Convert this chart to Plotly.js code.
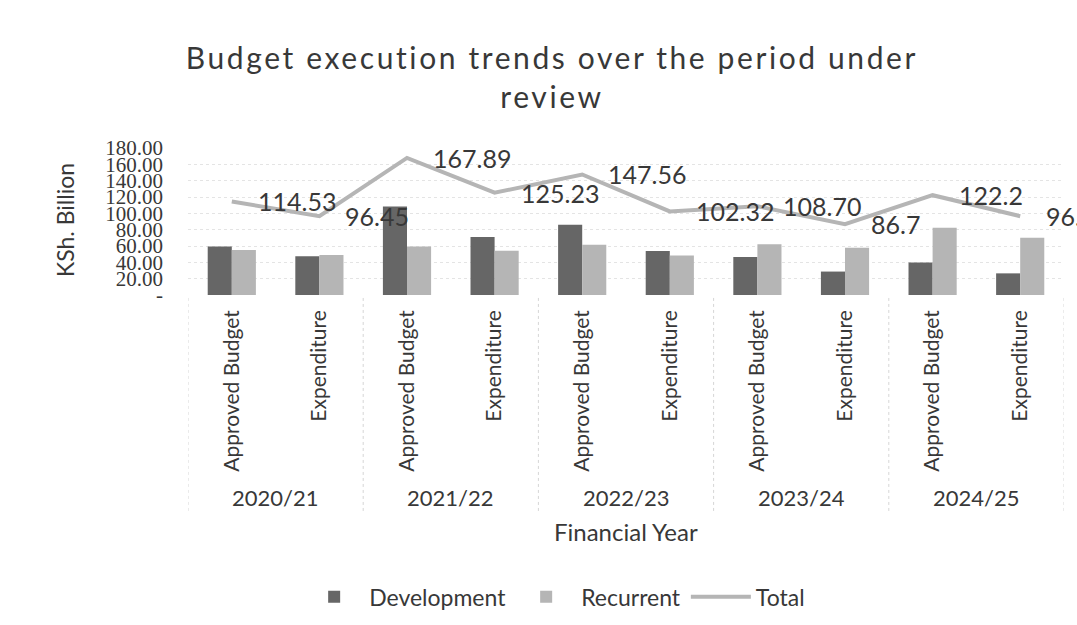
<!DOCTYPE html>
<html>
<head>
<meta charset="utf-8">
<script src="https://cdn.plot.ly/plotly-3.0.1.min.js"></script>
<style>
  html, body { margin: 0; padding: 0; background: #fff; }
  #chart { width: 1077px; height: 625px; }
  /* the original title is set with airy letter spacing */
  #chart .gtitle { letter-spacing: 2.6px; }
</style>
</head>
<body>
<div id="chart"></div>
<script>
// values (KSh. Billion)
const years = ["2020/21", "2021/22", "2022/23", "2023/24", "2024/25"];
const stages = ["Approved Budget", "Expenditure"];
const development = [59.5, 47.5, 108.5, 71.0, 86.0, 54.0, 46.5, 28.7, 39.8, 26.5];
const recurrent = [55.0, 49.0, 59.4, 54.2, 61.6, 48.3, 62.2, 58.0, 82.4, 70.0];
const total = [114.53, 96.45, 167.89, 125.23, 147.56, 102.32, 108.70, 86.7, 122.2, 96.5];
const totalLabels = ["114.53", "96.45", "167.89", "125.23", "147.56", "102.32", "108.70", "86.7", "122.2", "96.5"];
const yTicks = [0, 20, 40, 60, 80, 100, 120, 140, 160, 180];
const yTickText = ["-", "20.00", "40.00", "60.00", "80.00", "100.00", "120.00", "140.00", "160.00", "180.00"];

const font = "Lato, 'Open Sans', sans-serif";
const textColor = "#383838";

// one slot per year/stage pair
let xs = [];
let xLabels = [];
years.forEach(function (yr) {
  stages.forEach(function (st) {
    xs.push(xs.length);
    xLabels.push(st);
  });
});

let data = [
  {
    name: "Development",
    type: "bar",
    x: xs,
    y: development,
    marker: { color: "#666666" }
  },
  {
    name: "Recurrent",
    type: "bar",
    x: xs,
    y: recurrent,
    marker: { color: "#b5b5b5" }
  },
  {
    name: "Total",
    type: "scatter",
    mode: "lines",
    x: xs,
    y: total,
    line: { color: "#b5b5b5", width: 4 }
  }
];

let annotations = [];
// data labels of the total line, sitting just right of each point
for (let i = 0; i < total.length; i++) {
  annotations.push({
    x: xs[i], y: total[i], xref: "x", yref: "y",
    text: totalLabels[i], showarrow: false,
    xanchor: "left", yanchor: "middle", xshift: 24,
    font: { family: font, size: 25, color: textColor }
  });
}
// year group labels
years.forEach(function (yr, k) {
  annotations.push({
    x: k * 2 + 0.5, y: -1.38, xref: "x", yref: "paper",
    text: yr, showarrow: false,
    xanchor: "center", yanchor: "middle",
    font: { family: font, size: 22, color: textColor }
  });
});
annotations.push({
  x: 0.5, y: -1.61, xref: "paper", yref: "paper",
  text: "Financial Year", showarrow: false,
  xanchor: "center", yanchor: "middle",
  font: { family: font, size: 24, color: textColor }
});
annotations.push({
  x: -0.1404, y: 0.51, xref: "paper", yref: "paper",
  text: "KSh. Billion", showarrow: false, textangle: -90,
  xanchor: "center", yanchor: "middle",
  font: { family: font, size: 23, color: textColor }
});

// dotted dividers between the year groups
let shapes = [];
for (let k = 0; k <= years.length; k++) {
  shapes.push({
    type: "line", xref: "x", yref: "paper",
    x0: k * 2 - 0.5, x1: k * 2 - 0.5, y0: -0.02, y1: -1.47,
    line: { color: "#d6d6d6", width: 1, dash: "dot" }
  });
}

let layout = {
  width: 1077,
  height: 625,
  paper_bgcolor: "#fff",
  plot_bgcolor: "#fff",
  margin: { l: 188, r: 13, t: 148, b: 330 },
  title: {
    text: "Budget execution trends over the period under<br>review",
    x: 0.5125, xref: "container", xanchor: "center",
    y: 0.889, yref: "container", yanchor: "top",
    font: { family: font, size: 30, color: textColor }
  },
  barmode: "group",
  bargap: 0.45,
  bargroupgap: 0,
  xaxis: {
    range: [-0.5, 9.5],
    tickvals: xs,
    ticktext: xLabels,
    tickangle: -90,
    showgrid: false,
    zeroline: false,
    ticks: "",
    ticklabelstandoff: 10,
    tickfont: { family: font, size: 21, color: textColor }
  },
  yaxis: {
    range: [0, 180],
    tickvals: yTicks,
    ticktext: yTickText,
    showgrid: true,
    gridcolor: "#e4e4e4",
    griddash: "dot",
    zeroline: false,
    ticklabelstandoff: 24,
    tickfont: { family: "'Liberation Serif', 'DejaVu Serif', serif", size: 21, color: textColor }
  },
  showlegend: true,
  legend: {
    orientation: "h",
    x: 0.515, xref: "container", xanchor: "center",
    y: 0.045, yref: "container", yanchor: "middle",
    font: { family: font, size: 23, color: textColor },
    itemwidth: 60,
    traceorder: "normal"
  },
  annotations: annotations,
  shapes: shapes
};

Plotly.newPlot("chart", data, layout, { displayModeBar: false });
</script>
</body>
</html>
